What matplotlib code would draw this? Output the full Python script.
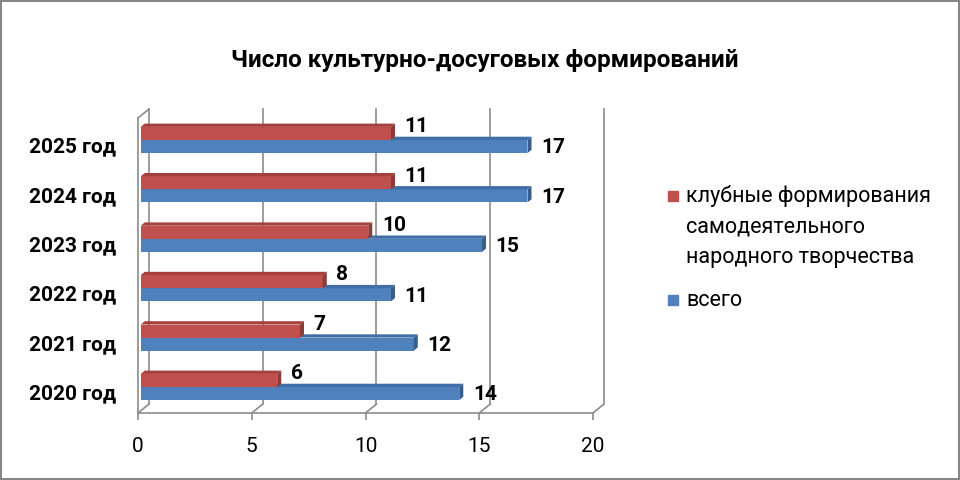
import matplotlib
matplotlib.use("Agg")
import matplotlib.pyplot as plt
from matplotlib.patches import Rectangle

plt.rcParams['font.family'] = ['Roboto', 'DejaVu Sans']

# data
years = ["2020 год", "2021 год", "2022 год", "2023 год", "2024 год", "2025 год"]
club = [6, 7, 8, 10, 11, 11]      # клубные формирования
total = [14, 12, 11, 15, 17, 17]  # всего
title = "Число культурно-досуговых формирований"
club_label = "клубные формирования\nсамодеятельного\nнародного творчества"
total_label = "всего"

red, red_top, red_side = "#C0504D", "#A5403D", "#8E3A38"
blue, blue_top, blue_side = "#4F81BD", "#3F6DA5", "#385E8C"
grid_c = "#8C8C8C"

# fake 3d: depth shift in data units (back wall) and bar slab depth
DX, DY = 0.48, 0.18
d0, d1 = 0.25, 0.62
h = 0.265

fig = plt.figure(figsize=(9.6, 4.8), dpi=100)
ax = fig.add_axes([138 / 960, (480 - 413) / 480, 455 / 960, 295 / 480])
ymin, ymax = -0.526 + d0 * DY, 5.445 + d0 * DY
ax.set_xlim(0, 20)
ax.set_ylim(ymin, ymax)

# back wall grid + floor lines
for v in range(0, 21, 5):
    ax.plot([v + DX, v + DX], [ymin + DY, ymax + DY], color=grid_c, lw=1.2, clip_on=False, zorder=1)
    ax.plot([v, v + DX], [ymin, ymin + DY], color=grid_c, lw=1.2, clip_on=False, zorder=1)
ax.plot([0, DX], [ymax, ymax + DY], color=grid_c, lw=1.2, clip_on=False, zorder=1)


def bar3d(y, v, c_front, c_top, c_side):
    x0, y0 = d0 * DX, y + d0 * DY
    ax.barh(y0 + h / 2, v, left=x0, height=h, color=c_front, zorder=3)
    sx, sy = (d1 - d0) * DX, (d1 - d0) * DY
    ax.fill([x0, x0 + v, x0 + v + sx, x0 + sx], [y0 + h, y0 + h, y0 + h + sy, y0 + h + sy],
            color=c_top, zorder=3, lw=0)
    ax.fill([x0 + v, x0 + v + sx, x0 + v + sx, x0 + v], [y0, y0 + sy, y0 + h + sy, y0 + h],
            color=c_side, zorder=3, lw=0)


for i in range(len(years)):
    bar3d(i - h, total[i], blue, blue_top, blue_side)
    bar3d(i, club[i], red, red_top, red_side)
    ax.text(total[i] + 0.72, i - 0.16 + d0 * DY, str(total[i]), fontsize=15, fontweight="bold",
            ha="left", va="center", zorder=4)
    ax.text(club[i] + 0.72, i + 0.27 + d0 * DY, str(club[i]), fontsize=15, fontweight="bold",
            ha="left", va="center", zorder=4)

ax.set_yticks([i - 0.1 + d0 * DY for i in range(len(years))])
ax.set_yticklabels(years, fontsize=15, fontweight="bold")
ax.tick_params(axis="y", length=0, pad=16)
ax.set_xticks(range(0, 21, 5))
ax.tick_params(axis="x", labelsize=15, length=5, width=1.2, color=grid_c, pad=12)
for s in ["top", "right"]:
    ax.spines[s].set_visible(False)
for s in ["left", "bottom"]:
    ax.spines[s].set_color(grid_c)
    ax.spines[s].set_linewidth(1.2)
ax.patch.set_alpha(0)

fig.text(485 / 960, 1 - 60 / 480, title, fontsize=17.5, fontweight="bold", ha="center", va="center")

# legend
fig.patches.append(Rectangle((668 / 960, 1 - 201 / 480), 10 / 960, 10 / 480, color=red,
                             transform=fig.transFigure, figure=fig))
for k, line in enumerate(club_label.split("\n")):
    fig.text(686 / 960, 1 - (196 + 30.5 * k) / 480, line, fontsize=15.5, ha="left", va="center")
fig.patches.append(Rectangle((668 / 960, 1 - 305 / 480), 10 / 960, 10 / 480, color=blue,
                             transform=fig.transFigure, figure=fig))
fig.text(686 / 960, 1 - 300 / 480, total_label, fontsize=15.5, ha="left", va="center")

fig.patches.append(Rectangle((0.001, 0.002), 0.998, 0.996, fill=False, ec="#868686", lw=1.5,
                             transform=fig.transFigure, figure=fig))

fig.savefig("out.png", dpi=100)
